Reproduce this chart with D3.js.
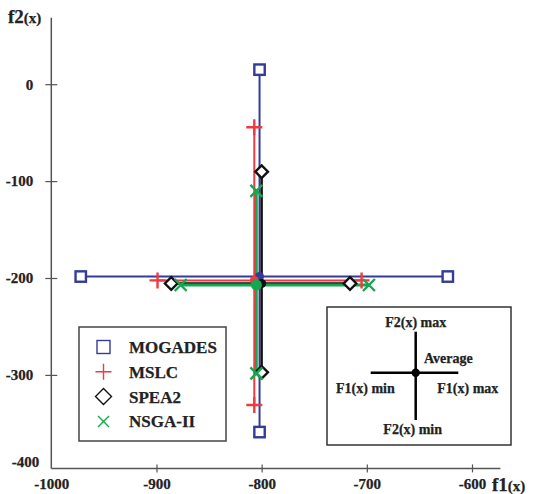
<!DOCTYPE html>
<html><head><meta charset="utf-8">
<script src="https://cdn.jsdelivr.net/npm/d3@7"></script>
<style>body{margin:0;background:#fff}svg{display:block}text{font-family:"Liberation Serif","Times New Roman",serif;font-weight:bold;stroke:#222;stroke-width:0.25px}</style>
</head><body><svg id="c" width="535" height="494"></svg>
<script>
const algorithms = ["MOGADES", "MSLC", "SPEA2", "NSGA-II"];
const markerTypes = ["square", "plus", "diamond", "cross"];
const colors = ["#363b97", "#ef3b3f", "#111111", "#12a84e"];
const avgF1 = [-802, -807, -800, -805];
const avgF2 = [-198.5, -202.5, -205.7, -207.2];
const f1Min = [-972, -899, -886, -877];
const f1Max = [-623, -705, -716, -698];
const f2Max = [15, -44.5, -90.3, -110];
const f2Min = [-359, -331, -297.3, -298.4];
const xTicks = [-1000, -900, -800, -700, -600];
const yTicks = [0, -100, -200, -300];
const yBottomLabel = -400;

const fmt = d => String(d);
const svg = d3.select("#c");
const x = d3.scaleLinear().domain([-1000, -600]).range([51.3, 472]);
const y = d3.scaleLinear().domain([-400, 0]).range([471.8, 84.2]);
const xEnd = -573, yTop = 68.5, yBottom = -396.5;
const axisColor = "#555";

svg.append("line").attr("x1", x(-1000)).attr("x2", x(xEnd)).attr("y1", y(yBottom)).attr("y2", y(yBottom))
  .attr("stroke", axisColor).attr("stroke-width", 1.5);
svg.append("line").attr("x1", x(-1000)).attr("x2", x(-1000)).attr("y1", y(yBottom)).attr("y2", y(yTop))
  .attr("stroke", axisColor).attr("stroke-width", 1.5);

const xAxis = svg.append("g").attr("transform", `translate(0,${y(yBottom)})`)
  .call(d3.axisBottom(x).tickValues(xTicks).tickFormat(fmt).tickSize(4).tickPadding(6));
xAxis.select(".domain").remove();
xAxis.selectAll(".tick line").attr("y1", -4).attr("y2", 4).attr("stroke", axisColor).attr("stroke-width", 1.2);
xAxis.selectAll(".tick").filter(d => d === -1000).select("line").remove();
xAxis.selectAll("text").attr("fill", "#222").style("font-size", "15px").style("font-family", '"Liberation Serif",serif').style("font-weight", "bold");

const yAxis = svg.append("g").attr("transform", `translate(${x(-1000)},0)`)
  .call(d3.axisLeft(y).tickValues(yTicks).tickFormat(fmt).tickSize(6).tickPadding(12));
yAxis.select(".domain").remove();
yAxis.selectAll(".tick line").attr("x1", -6).attr("x2", 6).attr("stroke", axisColor).attr("stroke-width", 1.2);
yAxis.selectAll("text").attr("fill", "#222").style("font-size", "15px").style("font-family", '"Liberation Serif",serif').style("font-weight", "bold");
svg.append("text").attr("x", x(-1000) - 12).attr("y", y(yBottom) - 6).attr("dy", "0.32em")
  .attr("text-anchor", "end").attr("fill", "#222").style("font-size", "15px").text(fmt(yBottomLabel));

const t2 = svg.append("text").attr("x", 8).attr("y", 23).attr("fill", "#222");
t2.append("tspan").style("font-size", "19px").text("f2");
t2.append("tspan").style("font-size", "15px").text("(x)");
const t1 = svg.append("text").attr("x", 492).attr("y", 491).attr("fill", "#222");
t1.append("tspan").style("font-size", "19px").text("f1");
t1.append("tspan").style("font-size", "15px").text("(x)");

function marker(g, type, cx, cy, color, s, sw) {
  if (type === "square") {
    g.append("rect").attr("x", cx - s).attr("y", cy - s).attr("width", 2 * s).attr("height", 2 * s)
      .attr("fill", "#fff").attr("stroke", color).attr("stroke-width", sw);
  } else if (type === "diamond") {
    g.append("path").attr("d", `M${cx},${cy - s}L${cx + s},${cy}L${cx},${cy + s}L${cx - s},${cy}Z`)
      .attr("fill", "#fff").attr("stroke", color).attr("stroke-width", sw);
  } else if (type === "plus") {
    g.append("path").attr("d", `M${cx - s},${cy}H${cx + s}M${cx},${cy - s}V${cy + s}`)
      .attr("stroke", color).attr("stroke-width", sw).attr("fill", "none");
  } else {
    g.append("path").attr("d", `M${cx - s},${cy - s}L${cx + s},${cy + s}M${cx - s},${cy + s}L${cx + s},${cy - s}`)
      .attr("stroke", color).attr("stroke-width", sw).attr("fill", "none");
  }
}

const lineW = [2, 2, 2.4, 2.8];
const plot = svg.append("g");
algorithms.forEach((a, i) => {
  plot.append("line").attr("x1", x(f1Min[i])).attr("x2", x(f1Max[i])).attr("y1", y(avgF2[i])).attr("y2", y(avgF2[i]))
    .attr("stroke", colors[i]).attr("stroke-width", lineW[i]);
  plot.append("line").attr("x1", x(avgF1[i])).attr("x2", x(avgF1[i])).attr("y1", y(f2Max[i])).attr("y2", y(f2Min[i]))
    .attr("stroke", colors[i]).attr("stroke-width", lineW[i]);
});
const markSize = [5.2, 8, 6.3, 6];
algorithms.forEach((a, i) => {
  const pts = [[f1Min[i], avgF2[i]], [f1Max[i], avgF2[i]], [avgF1[i], f2Max[i]], [avgF1[i], f2Min[i]]];
  pts.forEach(p => marker(plot, markerTypes[i], x(p[0]), y(p[1]), colors[i], markSize[i], 2.4));
});
const dotR = [4.5, 4.5, 4.5, 5.5];
algorithms.forEach((a, i) => {
  plot.append("circle").attr("cx", x(avgF1[i])).attr("cy", y(avgF2[i])).attr("r", dotR[i]).attr("fill", colors[i]);
});

const lg = svg.append("g");
lg.append("rect").attr("x", 79).attr("y", 327).attr("width", 147).attr("height", 114)
  .attr("fill", "#fff").attr("stroke", "#444").attr("stroke-width", 1.5);
const legSize = [6.5, 8, 8, 5.5];
algorithms.forEach((a, i) => {
  const cy = 347 + i * 24.8;
  marker(lg, markerTypes[i], 103.5, cy, colors[i], legSize[i], 1.4);
  lg.append("text").attr("x", 129).attr("y", cy).attr("dy", "0.35em").attr("fill", "#222")
    .style("font-size", "17px").text(a);
});

const eb = svg.append("g");
eb.append("rect").attr("x", 327).attr("y", 307).attr("width", 184).attr("height", 138)
  .attr("fill", "#fff").attr("stroke", "#333").attr("stroke-width", 1.5);
eb.append("line").attr("x1", 370.7).attr("x2", 458.3).attr("y1", 372.7).attr("y2", 372.7).attr("stroke", "#000").attr("stroke-width", 2.5);
eb.append("line").attr("x1", 415.7).attr("x2", 415.7).attr("y1", 331.7).attr("y2", 420).attr("stroke", "#000").attr("stroke-width", 2.5);
eb.append("circle").attr("cx", 415.7).attr("cy", 372.7).attr("r", 4.2).attr("fill", "#000");
const labels = [["F2(x) max", 415.7, 321.7, "middle"], ["Average", 424, 358.3, "start"], ["F1(x) min", 336, 388.3, "start"],
  ["F1(x) max", 437.3, 388.3, "start"], ["F2(x) min", 412.7, 429.3, "middle"]];
labels.forEach(l => eb.append("text").attr("x", l[1]).attr("y", l[2]).attr("dy", "0.35em").attr("text-anchor", l[3])
  .attr("fill", "#222").style("font-size", "14px").text(l[0]));
</script></body></html>
